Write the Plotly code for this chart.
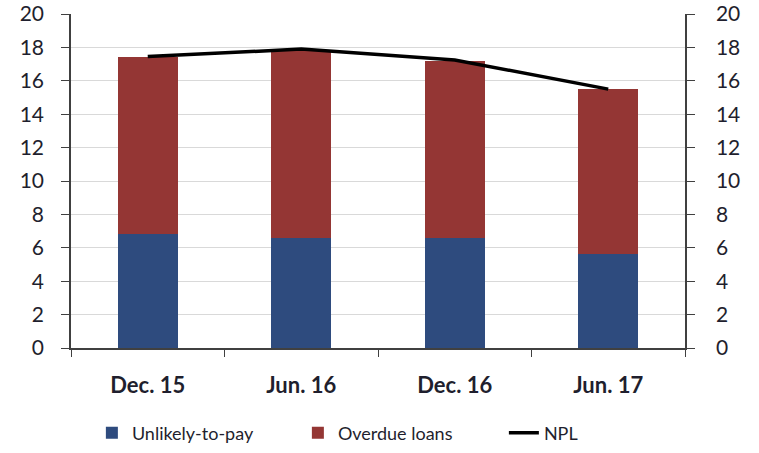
import plotly.graph_objects as go

# data
periods = ["Dec. 15", "Jun. 16", "Dec. 16", "Jun. 17"]
unlikely_to_pay = [6.85, 6.6, 6.6, 5.65]
overdue_loans = [10.6, 11.25, 10.6, 9.85]
npl = [17.45, 17.9, 17.25, 15.5]
y_ticks = [0, 2, 4, 6, 8, 10, 12, 14, 16, 18, 20]

BLUE = "#2e4b7e"
RED = "#943634"
FONT = "Lato, Open Sans, sans-serif"
TXT = "#1f1f2e"

fig = go.Figure()
fig.add_trace(go.Bar(x=periods, y=unlikely_to_pay, name="Unlikely-to-pay",
                     marker=dict(color=BLUE, line=dict(width=0))))
fig.add_trace(go.Bar(x=periods, y=overdue_loans, name="Overdue loans",
                     marker=dict(color=RED, line=dict(width=0))))
fig.add_trace(go.Scatter(x=periods, y=npl, name="NPL", mode="lines",
                         line=dict(color="black", width=3.5), yaxis="y2"))

axis_common = dict(
    range=[0, 20], tickvals=y_ticks, ticks="outside", ticklen=8,
    tickcolor="#404040", showline=True, linecolor="#404040", linewidth=1.5,
    tickfont=dict(family=FONT, size=21, color=TXT), zeroline=False,
)

fig.update_layout(
    width=759, height=453,
    margin=dict(l=71, r=74, t=14, b=105, autoexpand=False),
    barmode="stack", bargap=0.61,
    plot_bgcolor="white", paper_bgcolor="white",
    font=dict(family=FONT, size=18, color=TXT),
    xaxis=dict(showline=True, linecolor="#404040", linewidth=1.5,
               ticks="outside", ticklen=7, tickcolor="#404040",
               tickson="boundaries", showgrid=False, ticklabelstandoff=17,
               tickfont=dict(family=FONT, size=22, color=TXT, weight="bold")),
    yaxis=dict(showgrid=True, gridcolor="#d9d9d9", gridwidth=1,
               ticklabelstandoff=13, **axis_common),
    yaxis2=dict(overlaying="y", side="right", showgrid=False,
                ticklabelstandoff=17, **axis_common),
    legend=dict(orientation="h", x=0.034, xanchor="left", y=-0.2545,
                yanchor="middle", font=dict(family=FONT, size=18, color=TXT),
                entrywidth=161, entrywidthmode="pixels", traceorder="normal"),
    showlegend=True,
)

# drop the default body margin so the figure fills the window
fig.write_html("out.html", config={"displayModeBar": False},
               post_script="document.body.style.margin='0';")
